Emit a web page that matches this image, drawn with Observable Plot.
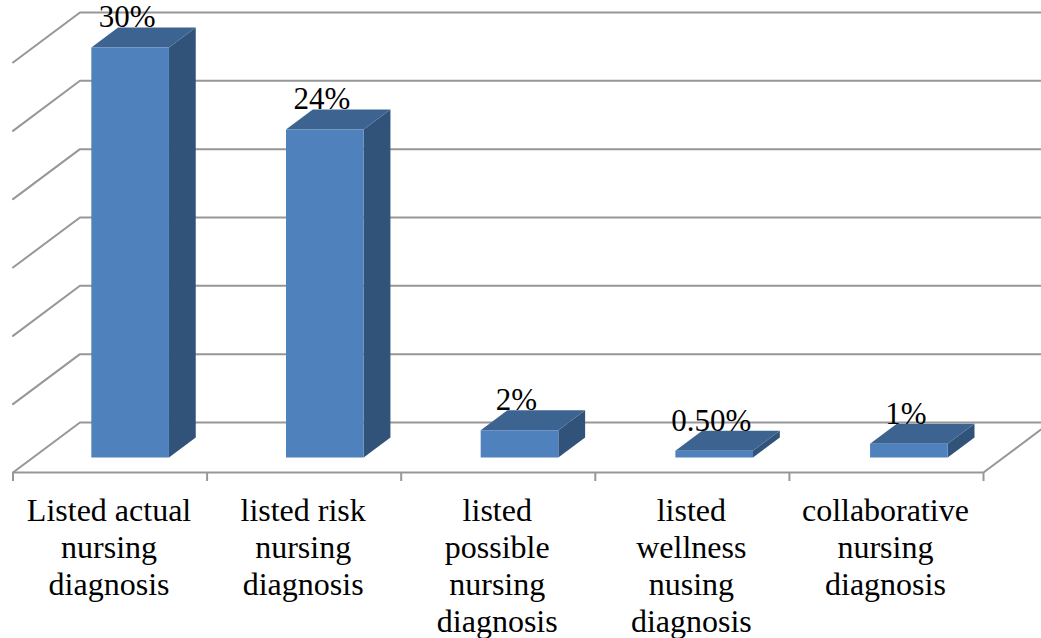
<!DOCTYPE html>
<html>
<head>
<meta charset="utf-8">
<style>
  html, body { margin: 0; padding: 0; background: #fff; overflow: hidden; }
  svg { display: block; }
</style>
<script src="https://cdn.jsdelivr.net/npm/d3@7"></script>
<script src="https://cdn.jsdelivr.net/npm/@observablehq/plot@0.6"></script>
</head>
<body>
<div id="chart"></div>
<script>
// Nursing diagnosis documentation, share per category
const categories = [
  "Listed actual\nnursing\ndiagnosis",
  "listed risk\nnursing\ndiagnosis",
  "listed\npossible\nnursing\ndiagnosis",
  "listed\nwellness\nnusing\ndiagnosis",
  "collaborative\nnursing\ndiagnosis"
];
const values = [30, 24, 2, 0.5, 1];
const valueLabels = ["30%", "24%", "2%", "0.50%", "1%"];
const gridValues = [0, 5, 10, 15, 20, 25, 30];
const tickPositions = [0, 1, 2, 3, 4, 5];

// Oblique projection: depth z in [0, 1] shifts a point right and up in data units.
const depthX = 0.345;
const depthY = 3.66;
const project = (pos, value, z) => ({ px: pos + z * depthX, py: value + z * depthY });

// Each bar occupies the middle of its slot, both across and in depth.
const barPitch = 1.003, barStart = 0.3, barEnd = 0.7, zFront = 0.3, zBack = 0.7;

const bars = values.map((value, i) => ({
  i, value, x0: i * barPitch + barStart, x1: i * barPitch + barEnd
}));
const face = (corners) => bars.flatMap((b) =>
  corners(b).map(([pos, value, z]) => ({ bar: b.i, ...project(pos, value, z) }))
);
const frontFaces = face((b) => [
  [b.x0, 0, zFront], [b.x1, 0, zFront], [b.x1, b.value, zFront], [b.x0, b.value, zFront]
]);
const sideFaces = face((b) => [
  [b.x1, 0, zFront], [b.x1, 0, zBack], [b.x1, b.value, zBack], [b.x1, b.value, zFront]
]);
const topFaces = face((b) => [
  [b.x0, b.value, zFront], [b.x1, b.value, zFront], [b.x1, b.value, zBack], [b.x0, b.value, zBack]
]);

// Wall gridlines run along the left side wall, then across the back wall.
const gridLines = gridValues.flatMap((v) =>
  [[0, v, 0], [0, v, 1], [5, v, 1]].map(([pos, value, z]) => ({ v, ...project(pos, value, z) }))
);
const floorEdge = [[0, 0, 0], [5, 0, 0], [5, 0, 1]].map(([pos, value, z]) => project(pos, value, z));

const labelPoints = bars.map((b, n) => ({
  ...project(b.x0 + (barEnd - barStart) / 2, b.value, zFront),
  label: valueLabels[n]
}));
const categoryPoints = categories.map((name, i) => ({ name, pos: i + 0.5 }));

const gridStyle = { stroke: "#979797", strokeWidth: 2, curve: "linear" };
const serif = "'Liberation Serif', 'Times New Roman', serif";

const chart = Plot.plot({
  width: 1041,
  height: 638,
  marginLeft: 12.5,
  marginRight: 58,
  marginTop: 62,
  marginBottom: 166,
  x: { domain: [0, 5], axis: null },
  y: { domain: [0, 30], axis: null },
  style: { background: "#fff", overflow: "hidden" },
  marks: [
    Plot.line(gridLines, { x: "px", y: "py", z: "v", ...gridStyle }),
    Plot.line(floorEdge, { x: "px", y: "py", ...gridStyle }),
    Plot.axisX(tickPositions, {
      anchor: "bottom",
      tickSize: 9,
      tickFormat: () => "",
      stroke: "#979797",
      strokeWidth: 2
    }),
    Plot.line(sideFaces, { x: "px", y: "py", z: "bar", fill: "#325379", stroke: null }),
    Plot.line(topFaces, { x: "px", y: "py", z: "bar", fill: "#3d6491", stroke: null }),
    Plot.line(frontFaces, { x: "px", y: "py", z: "bar", fill: "#4f81bd", stroke: null }),
    Plot.text(labelPoints, {
      x: "px",
      y: "py",
      text: "label",
      dy: -30,
      dx: -3,
      fontSize: 31,
      fontFamily: serif,
      fill: "#000"
    }),
    Plot.text(categoryPoints, {
      x: "pos",
      y: () => 0,
      text: "name",
      lineAnchor: "top",
      lineHeight: 1.155,
      dy: 22,
      dx: -1,
      fontSize: 32,
      fontFamily: serif,
      fill: "#000"
    })
  ]
});

document.getElementById("chart").appendChild(chart);
</script>
</body>
</html>
